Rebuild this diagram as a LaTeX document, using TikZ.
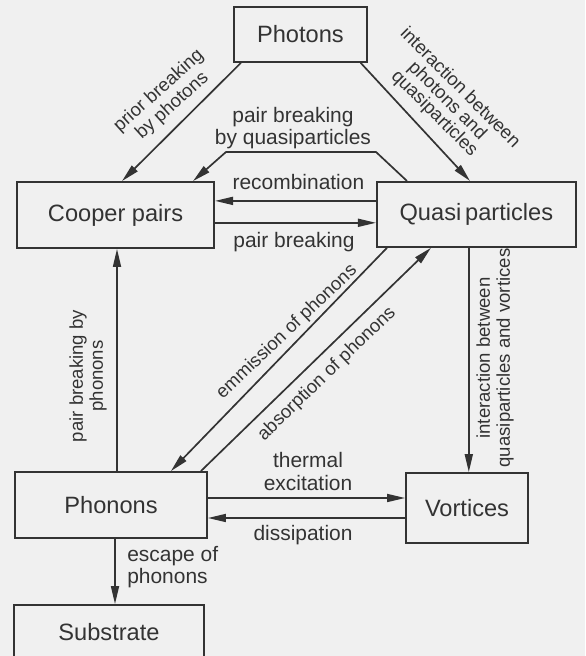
\documentclass[tikz,border=0pt]{standalone}
\usepackage{fontspec}
\setmainfont{Liberation Sans}
\usepackage{xcolor}
\definecolor{inkgray}{HTML}{333333}
\definecolor{paper}{HTML}{F0F0F0}
\usetikzlibrary{arrows.meta, calc}

\begin{document}
\begin{tikzpicture}[
    every node/.style={text=inkgray},
    box/.style={draw=inkgray, line width=1.3pt, inner sep=0pt,
                font=\fontsize{16.8}{19}\selectfont},
    lbl/.style={font=\fontsize{14.9}{15.8}\selectfont, align=center,
                inner sep=0pt},
    rlbl/.style={lbl, font=\fontsize{13.2}{14.2}\selectfont},
    flow/.style={draw=inkgray, line width=1.2pt,
                 -{Triangle[length=0.45cm, width=0.2cm]}},
]
% --- Page (keeps the reference margins) ---
\def\W{14.625}                            % page width
\def\H{16.4}                              % page height
\clip (0,0) rectangle (\W,\H);
\fill[paper] (0,0) rectangle (\W,\H);

% --- Boxes ---
\node[box, minimum width=3.325cm, minimum height=1.375cm]
    (photons)   at (7.51, 15.54)  {Photons};
\node[box, minimum width=4.925cm, minimum height=1.65cm]
    (cooper)    at (2.89, 11.025) {Cooper pairs};
\node[box, minimum width=4.975cm, minimum height=1.625cm]
    (quasi)     at (11.91, 11.04) {Quasi\,particles};
\node[box, minimum width=4.8cm, minimum height=1.65cm]
    (phonons)   at (2.775, 3.775) {Phonons};
\node[box, minimum width=3.05cm, minimum height=1.75cm]
    (vortices)  at (11.675, 3.7)  {Vortices};
\node[box, minimum width=4.75cm, minimum height=1.35cm]
    (substrate) at (2.725, 0.6)   {Substrate};

% --- Connectors ---
% photons feed both particle kinds
\draw[flow] ([xshift=0.2cm]photons.south west) -- ([xshift=0.16cm]cooper.north);
\draw[flow] ([xshift=-0.18cm]photons.south east) -- ([xshift=-0.16cm]quasi.north);

% bent route over the top
\draw[flow] ([xshift=0.775cm]quasi.north west) -- ++(-0.775,0.725)
    -- ++(-3.75,0) -- ([xshift=-0.55cm]cooper.north east);

% the horizontal pair between Cooper pairs and quasiparticles
\coordinate (rc) at ([yshift=0.3375cm]quasi.west);
\coordinate (pb) at ([yshift=-0.21cm]quasi.west);
\draw[flow] (rc) -- (rc -| cooper.east);
\draw[flow] (pb -| cooper.east) -- (pb);

% verticals
\coordinate (pp) at ([xshift=0.15cm]phonons.north);
\draw[flow] (pp) -- (pp |- cooper.south);
\coordinate (qv) at ([xshift=-0.19cm]quasi.south);
\draw[flow] (qv) -- (qv |- vortices.north);
\coordinate (es) at ([xshift=0.1cm]phonons.south);
\draw[flow] (es) -- (es |- substrate.north);

% diagonals between quasiparticles and phonons
\draw[flow] ([xshift=0.275cm]quasi.south west) -- ([xshift=-0.925cm]phonons.north east);
\draw[flow] ([xshift=-0.175cm]phonons.north east) -- ([xshift=1.375cm]quasi.south west);

% phonons <-> vortices
\coordinate (te) at ([yshift=0.175cm]phonons.east);
\coordinate (ds) at ([yshift=-0.325cm]phonons.east);
\draw[flow] (te) -- (te -| vortices.west);
\draw[flow] (ds -| vortices.west) -- (ds);

% --- Labels ---
\node[rlbl, rotate=42]  (lPrior)  at (4.14, 13.94)  {prior breaking\\by photons};
\node[rlbl, rotate=-45, font=\fontsize{13.2}{12.9}\selectfont]
                        (lPhQp)   at (11.175, 13.875)
    {interaction between\\photons and\\quasiparticles};
\node[lbl]              (lQpPb)   at (7.325, 13.2)  {pair breaking\\by quasiparticles};
\node[lbl]              (lRecomb) at (7.46, 11.85)  {recombination};
\node[lbl]              (lPb)     at (7.35, 10.34)  {pair breaking};
\node[rlbl, rotate=90]  (lPhPb)   at (2.2, 7.0)     {pair breaking by\\phonons};
\node[rlbl, rotate=43.5](lEmit)   at (7.175, 8.1)   {emmission of phonons};
\node[rlbl, rotate=44]  (lAbs)    at (8.175, 7.05)  {absorption of phonons};
\node[rlbl, rotate=90]  (lQpVx)   at (12.375, 7.45)
    {interaction between\\quasiparticles and vortices};
\node[lbl]              (lTherm)  at (7.7, 4.61)    {thermal\\excitation};
\node[lbl]              (lDiss)   at (7.575, 3.025) {dissipation};
\node[lbl, align=left, anchor=west]
                        (lEsc)    at (3.175, 2.225) {escape of\\phonons};
\end{tikzpicture}
\end{document}
